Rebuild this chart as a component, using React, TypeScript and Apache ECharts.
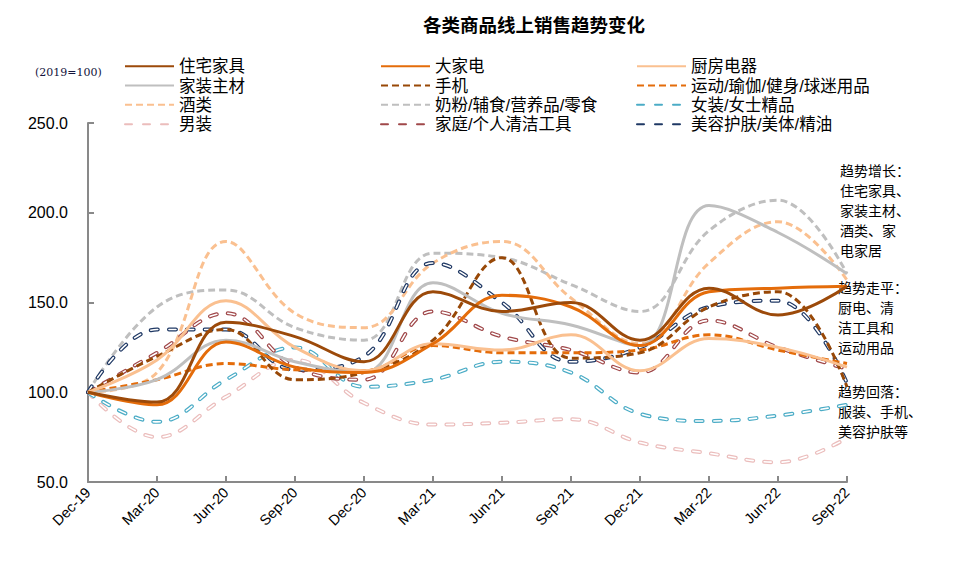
import React, { useEffect, useRef } from "react";
import * as echarts from "echarts";

const categories = ["Dec-19", "Mar-20", "Jun-20", "Sep-20", "Dec-20", "Mar-21", "Jun-21", "Sep-21", "Dec-21", "Mar-22", "Jun-22", "Sep-22"];
const yTicks = [50, 100, 150, 200, 250];

const zhuZhaiJiaJu = [100, 94.5, 139, 131, 117, 156, 145, 150, 129, 158, 143, 159];
const daJiaDian = [100, 93, 128, 114, 111, 127, 154, 147.5, 126, 156, 158, 159];
const chuFangDianQi = [100, 118, 151, 125, 112, 127, 123.5, 132, 112, 130, 125, 114];
const jiaZhuangZhuCai = [100, 107, 129, 117, 111, 161, 144, 137.5, 126, 204, 189, 166];
const shouJi = [100, 120, 135, 107, 111, 129, 175, 119, 122, 147.5, 156, 103];
const yunDong = [100, 107, 116, 112.5, 112, 126, 122, 122, 123.5, 132, 123.5, 116];
const jiuLei = [100, 111, 184, 144, 136, 172, 184, 152.5, 127, 172, 195, 162.5];
const naiFen = [100, 147.5, 157, 136, 129, 177.5, 175, 160, 145, 190, 207, 166];
const nvZhuang = [100, 83.5, 107, 125, 103, 107, 117, 111, 88, 84, 87, 93];
const nanZhuang = [100, 75, 97.5, 118, 94, 82, 83, 85, 72, 66, 61, 74.5];
const qingJie = [100, 122, 144, 114, 107, 145, 131, 123.5, 111, 140, 125, 113];
const meiRong = [100, 135, 135, 112.5, 120, 172, 150, 117, 125, 147.5, 151, 105];

const legendCol1 = ["住宅家具", "家装主材", "酒类", "男装"];
const legendCol2 = ["大家电", "手机", "奶粉/辅食/营养品/零食", "家庭/个人清洁工具"];
const legendCol3 = ["厨房电器", "运动/瑜伽/健身/球迷用品", "女装/女士精品", "美容护肤/美体/精油"];

type Kind = "solid" | "dashed" | "hollow";
const seriesDefs: { name: string; data: number[]; color: string; kind: Kind }[] = [
  { name: "男装", data: nanZhuang, color: "#EBBDBC", kind: "hollow" },
  { name: "女装/女士精品", data: nvZhuang, color: "#4BACC6", kind: "hollow" },
  { name: "奶粉/辅食/营养品/零食", data: naiFen, color: "#BFBFBF", kind: "dashed" },
  { name: "酒类", data: jiuLei, color: "#FAC090", kind: "dashed" },
  { name: "家庭/个人清洁工具", data: qingJie, color: "#A0484A", kind: "hollow" },
  { name: "美容护肤/美体/精油", data: meiRong, color: "#1F3864", kind: "hollow" },
  { name: "运动/瑜伽/健身/球迷用品", data: yunDong, color: "#E46C0A", kind: "dashed" },
  { name: "手机", data: shouJi, color: "#984807", kind: "dashed" },
  { name: "家装主材", data: jiaZhuangZhuCai, color: "#BFBFBF", kind: "solid" },
  { name: "厨房电器", data: chuFangDianQi, color: "#FAC090", kind: "solid" },
  { name: "大家电", data: daJiaDian, color: "#E46C0A", kind: "solid" },
  { name: "住宅家具", data: zhuZhaiJiaJu, color: "#9C4A0A", kind: "solid" },
];

const FONT = "'Liberation Sans', Arial, 'Noto Sans CJK SC', sans-serif";

export default function App() {
  const ref = useRef<HTMLDivElement>(null);
  useEffect(() => {
    if (!ref.current) return;
    const chart = echarts.init(ref.current, undefined, { renderer: "svg" });
    const series: any[] = [];
    seriesDefs.forEach((d) => {
      const base = {
        type: "line",
        smooth: 0.4,
        symbol: "none",
        data: d.data,
        itemStyle: { color: d.color },
      };
      if (d.kind === "solid") {
        series.push({ ...base, name: d.name, lineStyle: { color: d.color, width: 3 } });
      } else if (d.kind === "dashed") {
        series.push({ ...base, name: d.name, lineStyle: { color: d.color, width: 3, type: [7, 4] } });
      } else {
        series.push({ ...base, name: d.name, lineStyle: { color: d.color, width: 4, type: [7, 11], cap: "round" } });
        series.push({
          ...base,
          name: d.name + "__inner",
          itemStyle: { color: "#ffffff" },
          lineStyle: { color: "#ffffff", width: 1.6, type: [7, 11], cap: "round" },
        });
      }
    });
    const legendBase = {
      orient: "vertical",
      top: 53,
      padding: 5,
      itemWidth: 49,
      itemHeight: 15,
      itemGap: 2.8,
      itemTextGap: 5,
      selectedMode: false,
      itemStyle: { opacity: 0 },
      textStyle: { fontSize: 16.5, color: "#000", fontFamily: FONT, lineHeight: 16.5 },
    };
    chart.setOption({
      animation: false,
      backgroundColor: "#ffffff",
      title: {
        text: "各类商品线上销售趋势变化",
        left: 418,
        top: 11,
        textStyle: { fontSize: 18.5, fontWeight: "bold", color: "#000", fontFamily: FONT },
      },
      legend: [
        { ...legendBase, left: 119, data: legendCol1 },
        { ...legendBase, left: 375, data: legendCol2 },
        { ...legendBase, left: 631, data: legendCol3 },
      ],
      grid: { left: 88, right: 115, top: 123, bottom: 89, containLabel: false },
      xAxis: {
        type: "category",
        data: categories,
        boundaryGap: false,
        axisLine: { lineStyle: { color: "#898989", width: 2 } },
        axisTick: { inside: true, length: 6, lineStyle: { color: "#898989", width: 2 }, alignWithLabel: true },
        axisLabel: { rotate: 45, fontSize: 14.5, color: "#000", fontFamily: FONT, margin: 8, interval: 0 },
        splitLine: { show: false },
      },
      yAxis: {
        type: "value",
        min: yTicks[0],
        max: yTicks[yTicks.length - 1],
        interval: 50,
        axisLine: { show: true, lineStyle: { color: "#898989", width: 2 } },
        axisTick: { show: true, inside: true, length: 6, lineStyle: { color: "#898989", width: 2 } },
        axisLabel: { fontSize: 16, color: "#000", fontFamily: FONT, margin: 20, formatter: (v: number) => v.toFixed(1) },
        splitLine: { show: false },
      },
      graphic: [
        {
          type: "text",
          left: 35,
          top: 67,
          style: { text: "(2019=100)", fontSize: 11, fill: "#14143c", fontFamily: "'DejaVu Serif', serif" },
        },
        {
          type: "text",
          left: 840,
          top: 161,
          style: { text: "趋势增长：\n住宅家具、\n家装主材、\n酒类、家\n电家居", fontSize: 14, lineHeight: 20, fill: "#000", fontFamily: FONT },
        },
        {
          type: "text",
          left: 838,
          top: 278,
          style: { text: "趋势走平：\n厨电、清\n洁工具和\n运动用品", fontSize: 14, lineHeight: 20, fill: "#000", fontFamily: FONT },
        },
        {
          type: "text",
          left: 838,
          top: 382,
          style: { text: "趋势回落：\n服装、手机、\n美容护肤等", fontSize: 14, lineHeight: 20, fill: "#000", fontFamily: FONT },
        },
      ],
      series,
    });
    return () => chart.dispose();
  }, []);
  return <div ref={ref} style={{ position: "fixed", left: 0, top: 0, width: 962, height: 571 }} />;
}
